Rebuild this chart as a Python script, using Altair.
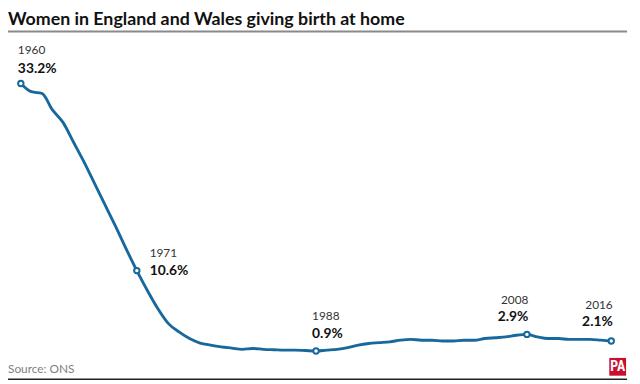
import altair as alt
import pandas as pd

# ---- data ----
years = list(range(1960, 2017))
values = [
    33.2, 32.2, 32.0, 30.0, 28.5, 26.1, 23.7, 21.1, 18.5, 15.9,   # 1960-69
    13.2, 10.6, 8.2, 6.0, 4.2, 3.2, 2.4, 1.85, 1.6, 1.4,          # 1970-79
    1.25, 1.1, 1.2, 1.1, 1.05, 1.0, 1.0, 0.95, 0.9, 1.0,          # 1980-89
    1.1, 1.3, 1.6, 1.8, 1.9, 2.0, 2.2, 2.3, 2.2, 2.2,             # 1990-99
    2.1, 2.1, 2.2, 2.2, 2.4, 2.5, 2.6, 2.8, 2.9, 2.6,             # 2000-09
    2.4, 2.4, 2.3, 2.3, 2.3, 2.2, 2.1,                            # 2010-16
]
highlight_years = [1960, 1971, 1988, 2008, 2016]
highlight_values = [33.2, 10.6, 0.9, 2.9, 2.1]
highlight_labels = ["33.2%", "10.6%", "0.9%", "2.9%", "2.1%"]

title_text = "Women in England and Wales giving birth at home"
source_text = "Source: ONS"

df = pd.DataFrame({"year": years, "value": values})
hl = pd.DataFrame({
    "year": highlight_years,
    "value": highlight_values,
    "ylabel": [str(y) for y in highlight_years],
    "vlabel": highlight_labels,
})

BLUE = "#17699d"
FONT = "Lato"

x = alt.X("year:Q", scale=alt.Scale(domain=[1960, 2016], range=[13, 611]), axis=None)
y = alt.Y("value:Q", scale=alt.Scale(domain=[0, 33.2], range=[352.5, 74]), axis=None)

line = alt.Chart(df).mark_line(
    color=BLUE, strokeWidth=2.9, interpolate="monotone"
).encode(x=x, y=y)

points = alt.Chart(hl).mark_point(
    shape="circle", filled=True, fill="white", stroke=BLUE, strokeWidth=2, size=30, opacity=1
).encode(x=x, y=y)

# per-annotation placement (align, dx, dy_year, dy_value)
placement = {
    1960: ("left", -3, -29.5, -11),
    1971: ("left", 13, -13.5, 4.5),
    1988: ("left", -4, -31.5, -13.3),
    2008: ("right", 1.5, -31, -13.5),
    2016: ("right", 1.5, -32.3, -15),
}

ann_layers = []
for yr, (al, dx, dy1, dy2) in placement.items():
    base = alt.Chart(hl).transform_filter(alt.datum.year == yr)
    ann_layers.append(
        base.mark_text(align=al, baseline="alphabetic", dx=dx, dy=dy1,
                       font=FONT, fontSize=12, color="#333333")
        .encode(x=x, y=y, text="ylabel:N")
    )
    ann_layers.append(
        base.mark_text(align=al, baseline="alphabetic", dx=dx, dy=dy2,
                       font=FONT, fontSize=14, fontWeight="bold", color="#111111")
        .encode(x=x, y=y, text="vlabel:N")
    )

deco = pd.DataFrame({"t": [title_text], "s": [source_text], "p": ["PA"]})

title = alt.Chart(deco).mark_text(
    align="left", baseline="alphabetic", font=FONT, fontSize=18, fontWeight="bold", color="#111111"
).encode(x=alt.value(0), y=alt.value(15), text="t:N")

underline = alt.Chart(deco).mark_rule(color="#8a8a8a", strokeWidth=2).encode(
    x=alt.value(0), x2=alt.value(627), y=alt.value(21.5)
)

bottom = alt.Chart(deco).mark_rule(color="#222222", strokeWidth=1.5).encode(
    x=alt.value(0), x2=alt.value(627), y=alt.value(373.5)
)

source = alt.Chart(deco).mark_text(
    align="left", baseline="alphabetic", font=FONT, fontSize=12, color="#808080"
).encode(x=alt.value(0), y=alt.value(367), text="s:N")

logo_box = alt.Chart(deco).mark_rect(color="#c8102e").encode(
    x=alt.value(609), x2=alt.value(626), y=alt.value(352), y2=alt.value(370)
)
logo_text = alt.Chart(deco).mark_text(
    align="center", baseline="middle", font="Liberation Sans Narrow, Roboto Condensed, Roboto",
    fontSize=14, fontWeight="bold", color="white"
).encode(x=alt.value(617.5), y=alt.value(361.5), text="p:N")

chart = alt.layer(
    underline, bottom, title, source, logo_box, logo_text, line, points, *ann_layers
).properties(
    width=632, height=376, padding=0, autosize=alt.AutoSizeParams(type="none")
).configure_view(stroke=None)

chart.save("out.html", embed_options={"renderer": "svg", "actions": False})
